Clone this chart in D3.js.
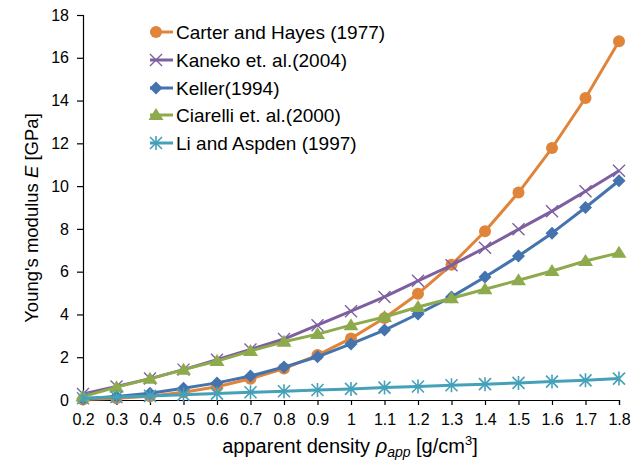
<!DOCTYPE html>
<html><head><meta charset="utf-8">
<script src="https://cdn.jsdelivr.net/npm/d3@7"></script>
<style>body{margin:0;background:#fff}svg{display:block}text{font-family:"Liberation Sans",Arial,sans-serif;fill:#000}</style>
</head><body><svg id="c" width="642" height="470"></svg>
<script>
const densities = [0.2,0.3,0.4,0.5,0.6,0.7,0.8,0.9,1.0,1.1,1.2,1.3,1.4,1.5,1.6,1.7,1.8];
const carterHayes = [0.02,0.08,0.18,0.36,0.62,0.99,1.47,2.10,2.88,3.83,4.97,6.32,7.89,9.70,11.78,14.12,16.77];
const kaneko = [0.28,0.63,1.0,1.42,1.88,2.36,2.85,3.5,4.15,4.82,5.57,6.3,7.12,7.98,8.83,9.76,10.72];
const keller = [0.06,0.16,0.32,0.55,0.8,1.12,1.54,2.02,2.62,3.27,4.02,4.82,5.75,6.73,7.8,9.0,10.25];
const ciarelli = [0.16,0.6,0.99,1.42,1.82,2.29,2.72,3.08,3.5,3.88,4.35,4.76,5.18,5.6,6.03,6.5,6.88];
const liAspden = [0.08,0.14,0.19,0.25,0.3,0.36,0.41,0.47,0.52,0.58,0.63,0.69,0.74,0.8,0.86,0.92,1.0];
const seriesNames = ["Carter and Hayes (1977)","Kaneko et. al.(2004)","Keller(1994)","Ciarelli et. al.(2000)","Li and Aspden (1997)"];
const seriesColors = ["#E0843A","#7D5FA0","#4473AE","#8DAA4C","#45A1B8"];
const seriesMarkers = ["circle","x","diamond","triangle","asterisk"];
const xTicks = [0.2,0.3,0.4,0.5,0.6,0.7,0.8,0.9,1,1.1,1.2,1.3,1.4,1.5,1.6,1.7,1.8];
const yTicks = [0,2,4,6,8,10,12,14,16,18];

const allSeries = [carterHayes,kaneko,keller,ciarelli,liAspden];
const svg = d3.select("#c");
const x = d3.scaleLinear().domain([0.2,1.8]).range([83,619]);
const y = d3.scaleLinear().domain([0,18]).range([400,15]);

// axes
const xAxis = svg.append("g").attr("transform","translate(0,400)")
  .call(d3.axisBottom(x).tickValues(xTicks).tickSize(5).tickPadding(9).tickFormat(d=>String(+d.toFixed(1))));
const yAxis = svg.append("g").attr("transform","translate(83,0)")
  .call(d3.axisLeft(y).tickValues(yTicks).tickSize(6).tickPadding(8));
[xAxis,yAxis].forEach(a=>{
  a.selectAll("path,line").attr("stroke","#000").attr("stroke-width",1.2);
  a.selectAll("text").attr("font-size","16px").attr("font-family","Liberation Sans, Arial, sans-serif");
});

function marker(g, type, color){
  if(type==="circle") g.append("circle").attr("r",6).attr("fill",color);
  else if(type==="diamond") g.append("path").attr("d","M0,-6.5L6.5,0L0,6.5L-6.5,0Z").attr("fill",color);
  else if(type==="triangle") g.append("path").attr("d","M0,-7L7.5,5L-7.5,5Z").attr("fill",color);
  else if(type==="x") g.append("path").attr("d","M-6,-6L6,6M-6,6L6,-6").attr("stroke",color).attr("stroke-width",1.4).attr("fill","none");
  else if(type==="asterisk") g.append("path").attr("d","M-6,-6L6,6M-6,6L6,-6M0,-7L0,7").attr("stroke",color).attr("stroke-width",1.6).attr("fill","none");
}

const line = d3.line().x((d,i)=>x(densities[i])).y(d=>y(d));
allSeries.forEach((vals,si)=>{
  const g = svg.append("g");
  g.append("path").datum(vals).attr("d",line).attr("fill","none")
    .attr("stroke",seriesColors[si]).attr("stroke-width",3).attr("stroke-linejoin","round");
  vals.forEach((v,i)=>{
    const m = g.append("g").attr("transform",`translate(${x(densities[i])},${y(v)})`);
    marker(m, seriesMarkers[si], seriesColors[si]);
  });
});

// legend
const legend = svg.append("g");
const ly = [32,60,88,115,143];
seriesNames.forEach((n,i)=>{
  const g = legend.append("g").attr("transform",`translate(0,${ly[i]})`);
  g.append("line").attr("x1",150).attr("x2",173).attr("y1",0).attr("y2",0)
    .attr("stroke",seriesColors[i]).attr("stroke-width",3);
  const m = g.append("g").attr("transform","translate(156,0)");
  marker(m, seriesMarkers[i], seriesColors[i]);
  g.append("text").attr("x",176).attr("y",0).attr("dy","0.35em").attr("font-size","19px").text(n);
});

// axis titles
const yt = svg.append("text").attr("transform","translate(38,218) rotate(-90)")
  .attr("text-anchor","middle").attr("font-size","18.5px");
yt.append("tspan").text("Young's modulus ");
yt.append("tspan").attr("font-style","italic").text("E");
yt.append("tspan").text("  [GPa]");

const xt = svg.append("text").attr("x",350).attr("y",453).attr("text-anchor","middle").attr("font-size","20px");
xt.append("tspan").text("apparent density ");
xt.append("tspan").attr("font-style","italic").text("ρ");
xt.append("tspan").attr("font-style","italic").attr("font-size","14px").attr("dy","4").text("app");
xt.append("tspan").attr("dy","-4").text(" [g/cm");
xt.append("tspan").attr("font-size","13px").attr("dy","-8").text("3");
xt.append("tspan").attr("dy","8").text("]");
</script></body></html>
